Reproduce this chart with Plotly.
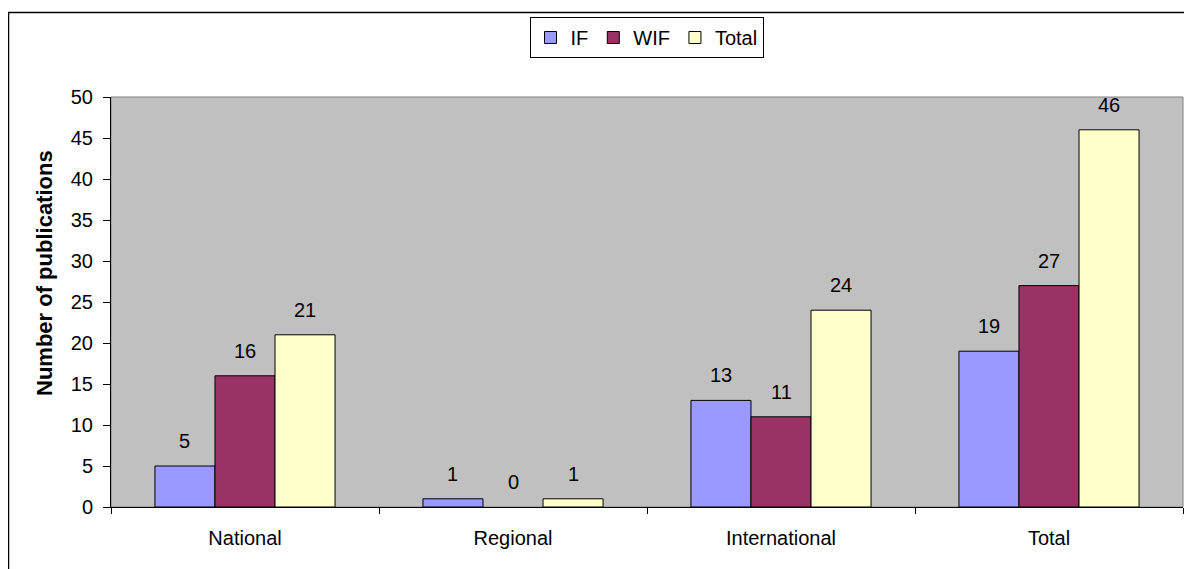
import plotly.graph_objects as go

categories = ["National", "Regional", "International", "Total"]
if_values = [5, 1, 13, 19]
wif_values = [16, 0, 11, 27]
total_values = [21, 1, 24, 46]
series_names = ["IF", "WIF", "Total"]
series_colors = ["#9999FF", "#993366", "#FFFFCC"]
y_ticks = [0, 5, 10, 15, 20, 25, 30, 35, 40, 45, 50]
y_title = "Number of publications"

series_values = [if_values, wif_values, total_values]

# the page body adds an 8px offset, so the figure is laid out in page px minus 8
OFF = 8
W, H = 1192 - OFF, 569 - OFF
L, R, T, B = 111 - OFF, 9, 97 - OFF, 62
pw, ph = W - L - R, H - T - B

FONT = "Liberation Sans, Arial, sans-serif"
FS = 20

fig = go.Figure()
for name, vals, col in zip(series_names, series_values, series_colors):
    fig.add_trace(go.Bar(
        name=name, x=categories, y=vals,
        marker=dict(color=col,
                    line=dict(color="black", width=[0 if v == 0 else 1 for v in vals])),
    ))

def px_x(p):
    return (p - OFF - L) / pw

def px_y(p):
    return (H - B - (p - OFF)) / ph

bar_px = pw / len(categories) * (1 - 0.328) / len(series_names)
annotations = []
for i, vals in enumerate(series_values):
    off = (i - (len(series_names) - 1) / 2) * bar_px
    for c, v in zip(categories, vals):
        annotations.append(dict(
            x=c, y=v, xref="x", yref="y", text=str(v), showarrow=False,
            xshift=off, yshift=12, yanchor="bottom",
            font=dict(family=FONT, size=FS, color="black"),
        ))
annotations.append(dict(
    x=px_x(44), y=px_y(273), xref="paper", yref="paper",
    text="<b>" + y_title + "</b>", textangle=-90, showarrow=False,
    xanchor="center", yanchor="middle",
    font=dict(family=FONT, size=22, color="black"),
))

fig.update_layout(
    width=W, height=H,
    margin=dict(l=L, r=R, t=T, b=B),
    paper_bgcolor="white",
    plot_bgcolor="#C0C0C0",
    barmode="group",
    bargap=0.328,
    bargroupgap=0,
    font=dict(family=FONT, size=FS, color="black"),
    showlegend=True,
    legend=dict(
        orientation="h", x=px_x(646.5), xanchor="center", y=px_y(17), yanchor="top",
        bgcolor="white", bordercolor="black", borderwidth=1,
        font=dict(family=FONT, size=FS, color="black"),
        itemwidth=30, tracegroupgap=0,
    ),
    xaxis=dict(
        type="category", showgrid=False, showline=True, linecolor="black",
        linewidth=1, ticks="outside", tickson="boundaries", ticklen=6,
        tickcolor="black", tickfont=dict(family=FONT, size=FS, color="black"),
        ticklabelstandoff=13, zeroline=False,
    ),
    yaxis=dict(
        range=[0, 50], tickvals=y_ticks, showgrid=False, showline=True,
        linecolor="black", linewidth=1, ticks="outside", ticklen=7,
        tickcolor="black", tickfont=dict(family=FONT, size=FS, color="black"),
        ticklabelstandoff=6, zeroline=False,
    ),
    annotations=annotations,
    shapes=[
        dict(type="rect", xref="paper", yref="paper", x0=0, x1=1, y0=0, y1=1,
             line=dict(color="#808080", width=1), layer="below"),
        dict(type="rect", xref="paper", yref="paper",
             x0=px_x(8.5), x1=px_x(1192 + 20), y0=px_y(569 + 20), y1=px_y(12.5),
             line=dict(color="black", width=1.5)),
    ],
)

fig.write_html("out.html")
